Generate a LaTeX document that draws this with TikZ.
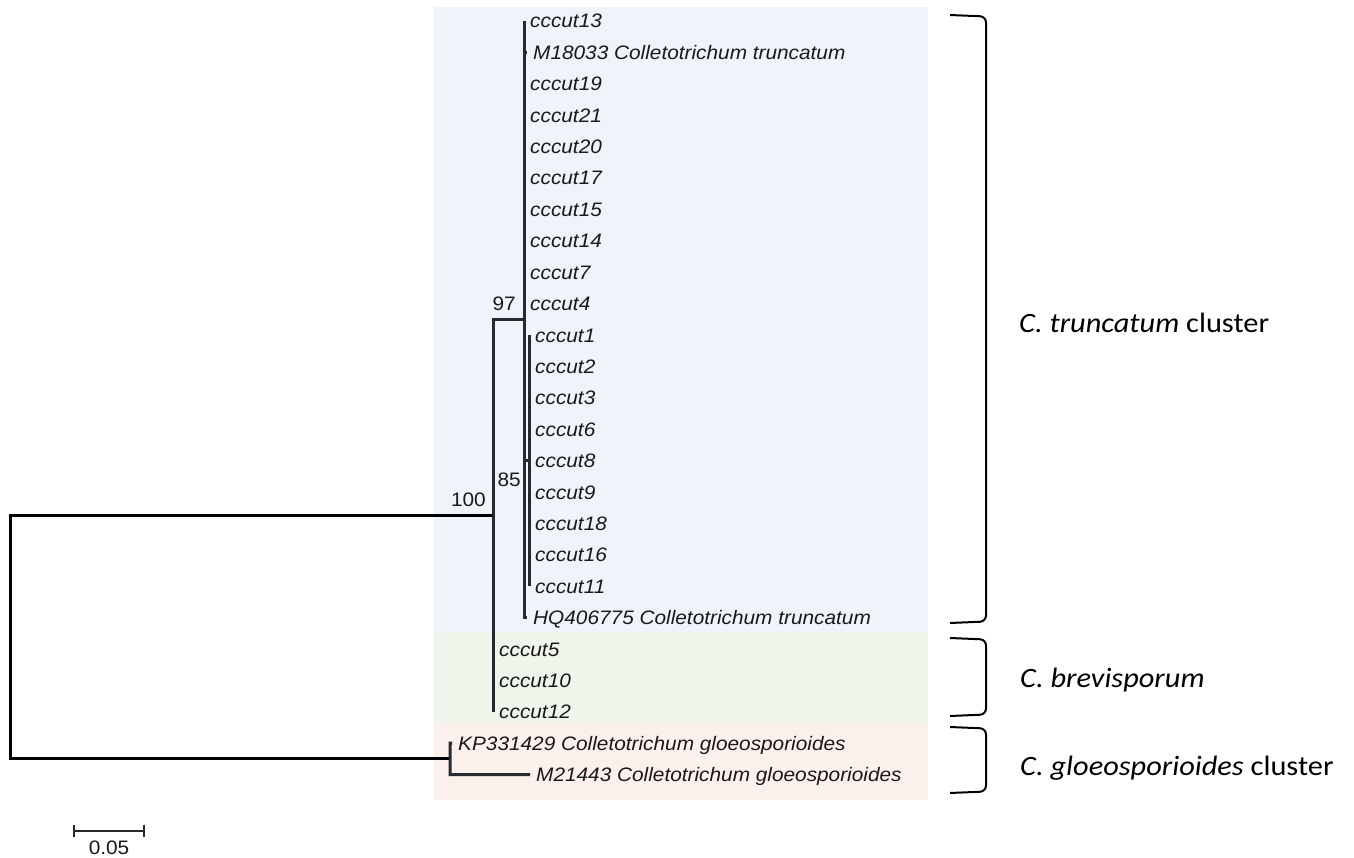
\documentclass[tikz,border=0pt]{standalone}
\usepackage{fontspec}
\newfontfamily\labfont[FakeStretch=1.067]{Liberation Sans}
\newfontfamily\clufont[FakeStretch=1.085]{Carlito}
\definecolor{bgblue}{RGB}{239,244,251}
\definecolor{bggreen}{RGB}{239,245,234}
\definecolor{bgpink}{RGB}{251,240,235}
\definecolor{branch}{RGB}{38,41,46}
\definecolor{inktext}{RGB}{25,25,25}

\begin{document}
\begin{tikzpicture}[x=1pt,y=-1pt,
  branchline/.style={line width=3pt, draw=branch},
  rootline/.style={line width=3pt, draw=black},
  taxon/.style={anchor=base west, inner sep=0pt, text=inktext,
    font=\labfont\itshape\fontsize{19.5}{22}\selectfont},
  support/.style={anchor=base east, inner sep=0pt, text=inktext,
    font=\labfont\fontsize{19.5}{22}\selectfont},
  cluster/.style={anchor=base west, inner sep=0pt, text=black,
    font=\clufont\fontsize{28}{32}\selectfont},
  bracket/.style={line width=2pt, draw=black, rounded corners=6pt}]

\useasboundingbox (0,0) rectangle (1354,858);

% shaded clade panels
\fill[bgblue]  (434,7)   rectangle (928,632);
\fill[bggreen] (434,632) rectangle (928,723);
\fill[bgpink]  (434,723) rectangle (928,800);

% internal nodes
\coordinate (root)  at (10,636);
\coordinate (n100)  at (493,515.4);
\coordinate (n97)   at (524,319.3);
\coordinate (n85a)  at (524,460.6);
\coordinate (n85)   at (529,460.6);
\coordinate (ngl)   at (450,758.9);

% leaf tips (row pitch 31.4)
\foreach \nm/\i/\x in {t13/0/524, m18/1/527, t19/2/524, t21/3/524, t20/4/524,
    t17/5/524, t15/6/524, t14/7/524, t7/8/524, t4/9/524,
    t1/10/529, t2/11/529, t3/12/529, t6/13/529, t8/14/529, t9/15/529,
    t18/16/529, t16/17/529, t11/18/529, hq/19/527,
    t5/20/493, t10/21/493, t12/22/493, kp/23/452, m21/24/530}
  \coordinate (tip-\nm) at (\x,{21+31.4*\i});
\coordinate (m18j) at (524,52.4);
\coordinate (kpj)  at (450,743.2);

% taxon labels
\foreach \nm/\lab in {t13/cccut13, m18/M18033 Colletotrichum truncatum,
    t19/cccut19, t21/cccut21, t20/cccut20, t17/cccut17, t15/cccut15,
    t14/cccut14, t7/cccut7, t4/cccut4, t1/cccut1, t2/cccut2, t3/cccut3,
    t6/cccut6, t8/cccut8, t9/cccut9, t18/cccut18, t16/cccut16, t11/cccut11,
    hq/HQ406775 Colletotrichum truncatum, t5/cccut5, t10/cccut10, t12/cccut12,
    kp/KP331429 Colletotrichum gloeosporioides,
    m21/M21443 Colletotrichum gloeosporioides}
  \node[taxon] (lab-\nm) at ([xshift=6pt,yshift=-7pt]tip-\nm) {\lab};

% root branches
\draw[rootline] (n100) -| (root) |- (ngl);
% node 100
\draw[branchline] (n97) -| (tip-t12);
% node 97
\draw[branchline] (tip-t13) |- (tip-hq);
\draw[branchline] (m18j) -- (tip-m18);
% node 85
\draw[branchline] (n85a) -- (n85);
\draw[branchline] (tip-t1) -- (tip-t11);
% gloeosporioides pair
\draw[branchline] (tip-kp) -- (kpj) |- (tip-m21);

% bootstrap support
\node[support] (bs100) at (486,506) {100};
\node[support] (bs97)  at (516,311) {97};
\node[support] (bs85)  at (521,486) {85};

% clade brackets
\draw[bracket] (950,15)  -- (986,16.5)  -- (986,621.5) -- (950,623);
\draw[bracket] (950,638) -- (986,639.5) -- (986,714.5) -- (950,716);
\draw[bracket] (950,727) -- (986,728.5) -- (986,791.5) -- (950,793);

\node[cluster] (cl1) at (1019,333) {\itshape C. truncatum\/\upshape{} cluster};
\node[cluster] (cl2) at (1020,687) {\itshape C. brevisporum};
\node[cluster] (cl3) at (1020,775) {\itshape C. gloeosporioides\/\upshape{} cluster};

% scale bar
\coordinate (sb1) at (74,831);
\coordinate (sb2) at (144,831);
\draw[line width=1.5pt, draw=branch] (sb1) -- (sb2);
\draw[line width=1.5pt, draw=branch] ([yshift=-6pt]sb1) -- ([yshift=6pt]sb1);
\draw[line width=1.5pt, draw=branch] ([yshift=-6pt]sb2) -- ([yshift=6pt]sb2);
\node[anchor=base, inner sep=0pt, text=inktext,
  font=\labfont\fontsize{19.5}{22}\selectfont] (sblab) at (109,854) {0.05};
\end{tikzpicture}
\end{document}
